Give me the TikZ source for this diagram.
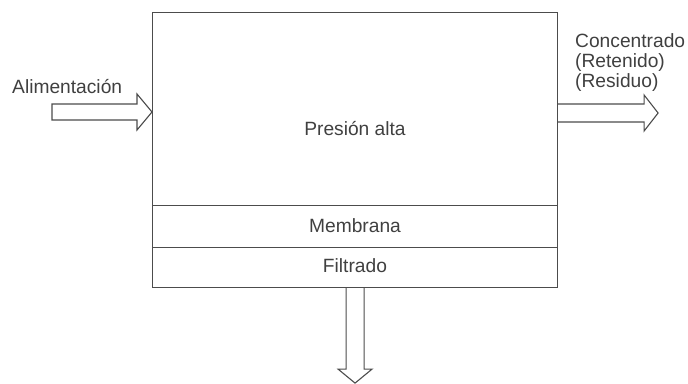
\documentclass[tikz,border=0pt]{standalone}
\usepackage{fontspec}
\setmainfont{Liberation Sans}
\begin{document}
\begin{tikzpicture}[x=1pt,y=-1pt,
  line/.style={draw=black!70,line width=1.1pt},
  lbl/.style={text=black!75,font=\fontsize{19.2}{21}\selectfont,inner sep=0pt},
  region/.style={line,minimum width=405pt,inner sep=0pt,anchor=north west}]
\useasboundingbox (0,0) rectangle (688,383);
% regions of the module
\node[region,minimum height=193pt] (alta) at (152,12) {};
\node[region,minimum height=42pt] (memb) at (152,205) {};
\node[region,minimum height=40pt] (filt) at (152,247) {};
% texts
\node[lbl,anchor=base] (talta) at (355,135) {Presión alta};
\node[lbl,anchor=base] (tmemb) at (355,232) {Membrana};
\node[lbl,anchor=base] (tfilt) at (355,272) {Filtrado};
\node[lbl,anchor=base west] (tin) at (12,93) {Alimentación};
\node[lbl,anchor=base west] (tout) at (575,47) {Concentrado};
\node[lbl,anchor=base west] (tout2) at (575,67) {(Retenido)};
\node[lbl,anchor=base west] (tout3) at (575,87) {(Residuo)};
% block arrows
\coordinate (inTip) at (alta.west |- 0,112);
\draw[line,line join=miter] (inTip) -- ++(-15,-18) -- ++(0,10) -- ++(-85,0) -- ++(0,16) -- ++(85,0) -- ++(0,10) -- cycle;
\coordinate (outBase) at (alta.east |- 0,113);
\draw[line,line join=miter] (outBase) ++(0,-9) -- ++(86,0) -- ++(0,-9) -- ++(14,18) -- ++(-14,18) -- ++(0,-9) -- ++(-86,0);
\coordinate (downBase) at (filt.south);
\draw[line,line join=miter] (downBase) ++(-9,0) -- ++(0,81) -- ++(-8,0) -- ++(17,14) -- ++(17,-14) -- ++(-8,0) -- ++(0,-81);
\end{tikzpicture}
\end{document}
